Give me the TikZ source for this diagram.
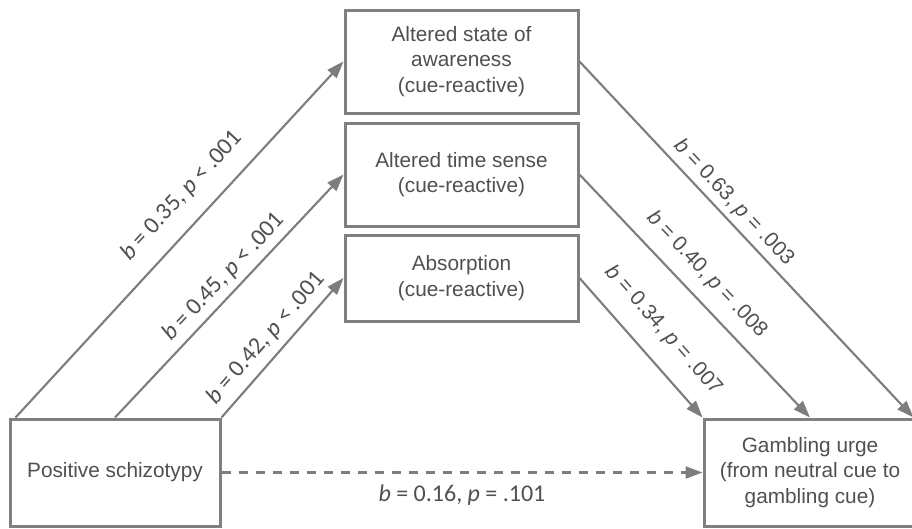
\documentclass[tikz,border=0pt]{standalone}
\usepackage{fontspec}
\setmainfont{Liberation Sans}
\newfontfamily\lblfont{Carlito}
\usetikzlibrary{arrows.meta,calc}
\definecolor{boxgray}{RGB}{128,128,128}
\definecolor{linegray}{RGB}{125,125,125}
\definecolor{txtgray}{RGB}{80,80,80}
\begin{document}
\begin{tikzpicture}[x=1pt,y=-1pt,
  box/.style={draw=boxgray, line width=3pt, rectangle, inner sep=0pt, align=center,
    text=txtgray, font=\fontsize{20.8}{25.5}\selectfont},
  conn/.style={draw=linegray, line width=2.1pt, -{Triangle[length=17pt,width=12pt]}},
  lblL/.style={sloped, inner sep=0pt, text=txtgray, font=\lblfont\fontsize{24}{28}\selectfont},
  lblR/.style={sloped, inner sep=0pt, text=txtgray, font=\fontsize{21}{25}\selectfont}]
\useasboundingbox[fill=white] (0,0) rectangle (912,528);

\node[box, minimum width=210pt, minimum height=107pt] (PS) at (115,472.5) {Positive schizotypy};
\node[box, minimum width=212pt, minimum height=107pt] (GU) at (810,472.5) {Gambling urge\\(from neutral cue to\\gambling cue)};
\node[box, minimum width=233pt, minimum height=103pt] (B1) at (461.5,61.5) {Altered state of\\awareness\\(cue-reactive)};
\node[box, minimum width=233pt, minimum height=103pt] (B2) at (461.5,174.5) {Altered time sense\\(cue-reactive)};
\node[box, minimum width=233pt, minimum height=86pt] (B3) at (461.5,278) {Absorption\\(cue-reactive)};

\coordinate (s1) at ($(PS.north west)+(7,0)$);
\coordinate (e1) at ($(GU.north east)+(-4,0)$);

\draw[conn] (s1) -- node[lblL, pos=0.57, above=17pt] {\textit{b} = 0.35, \textit{p} < .001} (B1.west);
\draw[conn] (PS.north) -- node[lblL, pos=0.53, above=6pt] {\textit{b} = 0.45, \textit{p} < .001} (B2.west);
\draw[conn] (PS.north east) -- node[lblL, pos=0.48, above=7.5pt] {\textit{b} = 0.42, \textit{p} < .001} (B3.west);

\draw[conn] (B1.east) -- node[lblR, pos=0.427, above=5pt] {\textit{b} = 0.63, \textit{p} = .003} (e1);
\draw[conn] (B2.east) -- node[lblR, pos=0.478, above=12.5pt] {\textit{b} = 0.40, \textit{p} = .008} (GU.north);
\draw[conn] (B3.east) -- node[lblR, pos=0.51, above=17.5pt] {\textit{b} = 0.34, \textit{p} = .007} (GU.north west);

\draw[conn, dash pattern=on 9pt off 8pt] (PS.east) -- node[below=11pt, inner sep=0pt, text=txtgray, font=\lblfont\fontsize{24}{28}\selectfont] {\textit{b} = 0.16, \textit{p} = .101} (GU.west);
\end{tikzpicture}
\end{document}
